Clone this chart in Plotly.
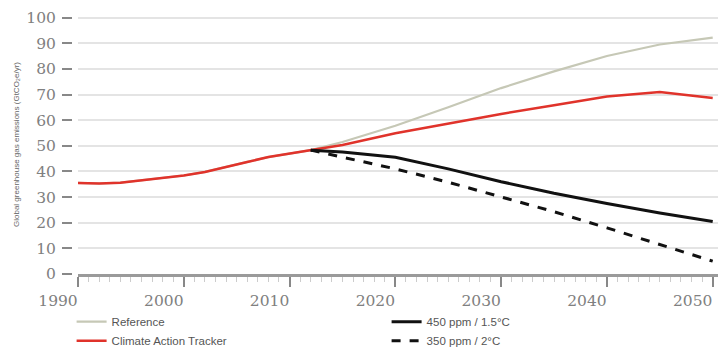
import plotly.graph_objects as go

hist_years = [1990, 1992, 1994, 1996, 1998, 2000, 2002, 2004, 2006, 2008, 2010, 2012]
hist_vals = [35.5, 35.3, 35.6, 36.6, 37.6, 38.4, 39.8, 41.6, 43.7, 45.6, 47.0, 48.3]

proj_years = [2012, 2015, 2020, 2025, 2030, 2035, 2040, 2045, 2050]
reference_proj = [48.3, 51.5, 57.8, 65.0, 72.5, 79.0, 85.0, 89.5, 92.2]
cat_proj = [48.3, 50.3, 54.9, 58.6, 62.4, 65.8, 69.2, 71.0, 68.6]
ppm450_proj = [48.3, 47.6, 45.5, 41.0, 36.0, 31.5, 27.5, 23.8, 20.5]
ppm350_proj = [48.3, 45.6, 41.0, 35.8, 30.0, 24.3, 18.0, 11.5, 5.0]

x_ticks = [1990, 2000, 2010, 2020, 2030, 2040, 2050]
y_ticks = [0, 10, 20, 30, 40, 50, 60, 70, 80, 90, 100]

ref_x = hist_years + proj_years[1:]
ref_y = hist_vals + reference_proj[1:]
cat_x = hist_years + proj_years[1:]
cat_y = hist_vals + cat_proj[1:]

fig = go.Figure()
fig.add_trace(go.Scatter(x=ref_x, y=ref_y, mode="lines", name="Reference",
                         line=dict(color="#c6c8b6", width=2.2), legendrank=1))
fig.add_trace(go.Scatter(x=cat_x, y=cat_y, mode="lines", name="Climate Action Tracker",
                         line=dict(color="#e0332b", width=2.5), legendrank=3))
fig.add_trace(go.Scatter(x=proj_years, y=ppm450_proj, mode="lines", name="450 ppm / 1.5°C",
                         line=dict(color="#111111", width=3), legendrank=2))
fig.add_trace(go.Scatter(x=proj_years, y=ppm350_proj, mode="lines", name="350 ppm / 2°C",
                         line=dict(color="#111111", width=3, dash="dash"), legendrank=4))

tick_font = dict(family="DejaVu Serif, Liberation Serif, serif", size=15.5, color="#808080")

fig.update_layout(
    width=718, height=350,
    margin=dict(l=78, r=0, t=15, b=76, autoexpand=False),
    paper_bgcolor="white", plot_bgcolor="white",
    showlegend=True,
    legend=dict(orientation="h", x=-0.01, xanchor="left", y=-0.128, yanchor="top",
                entrywidth=270, entrywidthmode="pixels", tracegroupgap=0,
                font=dict(family="Liberation Sans, Arial, sans-serif", size=11.5, color="#555555"),
                bgcolor="rgba(0,0,0,0)", traceorder="normal"),
    xaxis=dict(range=[1990, 2050.5], tickmode="array", tickvals=x_ticks,
               ticks="outside", ticklen=10, tickwidth=1.5, tickcolor="#888888",
               showgrid=False, showline=True, linecolor="#9a9a9a", linewidth=3,
               tickfont=tick_font, zeroline=False, ticklabelstandoff=0,
               ticklabelshift=-20, ticklabeloverflow="allow",
               minor=dict(dtick=1, ticks="outside", ticklen=5, tickcolor="#cccccc", tickwidth=1, showgrid=False)),
    yaxis=dict(range=[0, 101], tickmode="array", tickvals=y_ticks,
               anchor="free", position=0, shift=-6,
               ticks="outside", ticklen=10, tickwidth=1.5, tickcolor="#888888",
               showgrid=True, gridcolor="#e4e4e4", gridwidth=1.5, zeroline=False,
               showline=False, tickfont=tick_font, ticklabelstandoff=3,
               title=dict(text="Global greenhouse gas emissions (GtCO₂e/yr)",
                          font=dict(family="Liberation Sans, Arial, sans-serif", size=8, color="#666666"),
                          standoff=4)),
)

fig.write_html("out.html", config={"displayModeBar": False},
               post_script="document.body.style.margin='0';")
